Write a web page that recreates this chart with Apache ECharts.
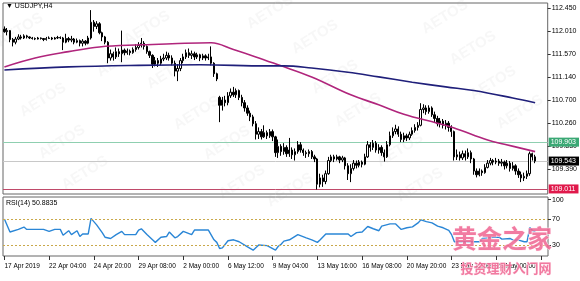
<!DOCTYPE html>
<html><head><meta charset="utf-8">
<script src="https://cdn.jsdelivr.net/npm/echarts@6/dist/echarts.min.js"></script>
<style>html,body{margin:0;padding:0;background:#fff}#c{width:580px;height:281px}</style>
</head><body><div id="c"></div>
<script>
const symbolName = "▼ USDJPY,H4";
const rsiTitle = "RSI(14) 50.8835";
const xTickLabels = ["17 Apr 2019","22 Apr 04:00","24 Apr 20:00","29 Apr 08:00","2 May 00:00","6 May 12:00","9 May 04:00","13 May 16:00","16 May 08:00","20 May 20:00","23 May 12:00","28 May 00:00"];
const barsPerTick = 16;
const priceTicks = [112.45,112.01,111.57,111.14,110.70,110.26,109.83,109.39];
const rsiTicks = [100,70,30];
const rsiLevels = [70,30];
const levelGreen = 109.903, levelBid = 109.543, levelRed = 109.011;
// [open, close, low, high]
const ohlc = [
[112.05,112.00,111.98,112.10],[112.00,112.02,111.93,112.07],[112.02,111.85,111.80,112.03],[111.85,111.80,111.72,111.88],
[111.80,111.86,111.76,111.90],[111.86,111.90,111.84,111.95],[111.90,111.88,111.85,111.94],[111.88,111.92,111.86,111.95],
[111.92,111.90,111.87,111.94],[111.90,111.88,111.86,111.91],[111.88,111.87,111.85,111.90],[111.87,111.86,111.84,111.89],
[111.86,111.88,111.85,111.90],[111.88,111.87,111.85,111.89],[111.87,111.85,111.82,111.88],[111.85,111.87,111.83,111.90],
[111.87,111.88,111.86,111.91],[111.88,111.86,111.84,111.90],[111.86,111.88,111.85,111.90],[111.88,111.89,111.86,111.92],
[111.89,111.88,111.86,111.91],[111.88,111.80,111.65,111.90],[111.80,111.87,111.78,111.96],[111.87,111.84,111.80,111.90],
[111.84,111.86,111.80,111.92],[111.86,111.80,111.76,111.88],[111.80,111.83,111.78,111.87],[111.83,111.78,111.72,111.85],
[111.78,111.82,111.72,111.86],[111.82,111.78,111.74,111.84],[111.78,111.88,111.76,111.92],[111.88,112.18,111.85,112.41],
[112.18,112.10,112.00,112.22],[112.10,112.15,112.05,112.20],[112.15,111.98,111.95,112.18],[111.98,111.90,111.82,112.00],
[111.90,111.80,111.76,111.92],[111.80,111.50,111.40,111.82],[111.50,111.58,111.45,111.66],[111.58,111.52,111.45,111.62],
[111.52,111.62,111.48,111.70],[111.62,111.58,111.52,111.68],[111.58,111.65,111.42,112.02],[111.65,111.60,111.55,111.68],
[111.60,111.63,111.56,111.68],[111.63,111.60,111.55,111.66],[111.60,111.66,111.58,111.70],[111.66,111.70,111.62,111.76],
[111.70,111.74,111.66,111.80],[111.74,111.78,111.70,111.88],[111.78,111.72,111.66,111.82],[111.72,111.62,111.58,111.74],
[111.62,111.55,111.50,111.64],[111.55,111.38,111.31,111.57],[111.38,111.45,111.34,111.52],[111.45,111.40,111.33,111.50],
[111.40,111.48,111.36,111.54],[111.48,111.50,111.44,111.58],[111.50,111.55,111.46,111.62],[111.55,111.50,111.45,111.60],
[111.50,111.40,111.36,111.55],[111.40,111.25,111.15,111.45],[111.25,111.30,111.06,111.38],[111.30,111.45,111.25,111.50],
[111.45,111.52,111.40,111.58],[111.52,111.60,111.48,111.66],[111.60,111.55,111.50,111.68],[111.55,111.58,111.48,111.64],
[111.58,111.52,111.46,111.62],[111.52,111.56,111.48,111.60],[111.56,111.50,111.44,111.58],[111.50,111.54,111.46,111.58],
[111.54,111.50,111.45,111.57],[111.50,111.52,111.46,111.58],[111.52,111.40,111.36,111.72],[111.40,111.20,111.14,111.42],
[111.20,111.10,111.06,111.22],[110.75,110.60,110.28,110.78],[110.60,110.70,110.50,110.76],[110.70,110.65,110.58,110.78],
[110.65,110.78,110.60,110.85],[110.78,110.85,110.74,110.92],[110.85,110.80,110.76,110.95],[110.80,110.88,110.74,110.92],
[110.88,110.75,110.70,110.90],[110.75,110.65,110.58,110.80],[110.65,110.55,110.48,110.70],[110.55,110.45,110.40,110.60],
[110.45,110.38,110.30,110.50],[110.38,110.25,110.20,110.42],[110.25,110.05,109.95,110.30],[110.05,110.10,109.96,110.18],
[110.10,110.00,109.95,110.15],[110.00,110.08,109.98,110.22],[110.08,110.02,109.96,110.12],[110.02,110.10,109.98,110.15],
[110.10,110.00,109.92,110.14],[110.00,109.70,109.62,110.02],[109.70,109.82,109.60,109.95],[109.82,109.72,109.64,109.86],
[109.72,109.80,109.66,109.88],[109.80,109.68,109.62,109.84],[109.68,109.75,109.62,109.98],[109.75,109.66,109.58,109.80],
[109.66,109.72,109.55,109.78],[109.72,109.85,109.68,109.92],[109.85,109.75,109.70,109.90],[109.75,109.70,109.64,109.78],
[109.70,109.68,109.60,109.74],[109.68,109.72,109.62,109.76],[109.72,109.62,109.58,109.75],[109.62,109.58,109.52,109.66],
[109.58,109.10,109.00,109.60],[109.10,109.22,109.04,109.30],[109.22,109.15,109.05,109.28],[109.15,109.30,109.10,109.36],
[109.30,109.55,109.28,109.62],[109.55,109.62,109.52,109.66],[109.62,109.58,109.52,109.66],[109.58,109.62,109.55,109.66],
[109.62,109.56,109.50,109.64],[109.56,109.60,109.52,109.64],[109.60,109.45,109.38,109.62],[109.45,109.30,109.18,109.50],
[109.30,109.40,109.14,109.48],[109.40,109.50,109.36,109.56],[109.50,109.46,109.40,109.55],[109.46,109.52,109.42,109.56],
[109.52,109.48,109.42,109.55],[109.48,109.62,109.46,109.68],[109.62,109.85,109.60,109.92],[109.85,109.80,109.72,109.90],
[109.80,109.88,109.75,109.94],[109.88,109.75,109.70,109.92],[109.75,109.80,109.68,109.86],[109.80,109.70,109.64,109.84],
[109.70,109.62,109.53,109.76],[109.62,109.85,109.60,109.92],[109.85,110.02,109.82,110.10],[110.02,110.10,109.98,110.18],
[110.10,110.15,110.05,110.23],[110.15,110.05,110.00,110.20],[110.05,109.95,109.90,110.10],[109.95,110.02,109.90,110.08],
[110.02,109.98,109.92,110.06],[109.98,110.05,109.94,110.10],[110.05,110.12,110.02,110.18],[110.12,110.18,110.08,110.24],
[110.18,110.22,110.12,110.28],[110.22,110.52,110.20,110.64],[110.52,110.55,110.45,110.62],[110.55,110.48,110.42,110.60],
[110.48,110.55,110.44,110.60],[110.55,110.42,110.38,110.58],[110.42,110.35,110.28,110.48],[110.35,110.25,110.20,110.40],
[110.25,110.30,110.18,110.36],[110.30,110.22,110.16,110.34],[110.22,110.26,110.14,110.32],[110.26,110.18,110.10,110.30],
[110.18,110.10,110.00,110.22],[110.10,109.62,109.55,110.12],[109.62,109.66,109.56,109.76],[109.66,109.60,109.55,109.72],
[109.60,109.68,109.56,109.74],[109.68,109.62,109.55,109.74],[109.62,109.70,109.58,109.78],[109.70,109.58,109.50,109.74],
[109.58,109.35,109.28,109.60],[109.35,109.28,109.23,109.40],[109.28,109.35,109.25,109.40],[109.35,109.32,109.26,109.38],
[109.32,109.42,109.30,109.48],[109.42,109.50,109.40,109.56],[109.50,109.55,109.46,109.60],[109.55,109.52,109.46,109.58],
[109.52,109.54,109.48,109.60],[109.54,109.50,109.45,109.58],[109.50,109.52,109.44,109.58],[109.52,109.45,109.38,109.55],
[109.45,109.50,109.40,109.56],[109.50,109.40,109.34,109.54],[109.40,109.45,109.36,109.52],[109.45,109.35,109.28,109.48],
[109.35,109.28,109.22,109.40],[109.28,109.22,109.14,109.34],[109.22,109.25,109.16,109.32],[109.25,109.30,109.20,109.36],
[109.30,109.68,109.26,109.72],[109.68,109.62,109.55,109.70],[109.62,109.54,109.50,109.66]
];
const emptyBarsRight = 4;
const maMagenta = [[0,111.33],[11,111.50],[23,111.62],[34,111.71],[49,111.75],[60,111.77],[74,111.79],[82,111.66],[90,111.52],[98,111.37],[110,111.14],[124,110.80],[134,110.61],[143,110.43],[155,110.26],[161,110.17],[173,109.94],[179,109.86],[190,109.72]];
const maNavy = [[0,111.27],[23,111.33],[48,111.36],[70,111.37],[94,111.35],[100,111.35],[110,111.31],[123,111.23],[134,111.14],[146,111.04],[158,110.95],[168,110.88],[182,110.74],[190,110.65]];
const rsi = [[0,70],[2,50],[5,54],[7,57.6],[8,54],[14,54],[16,51],[18,54],[20,54],[21,45],[23,52],[24,46],[26,52],[27,43],[28,47],[30,47],[31,71],[33,61],[35,49],[36,42],[38,40],[40,46],[42,51],[43,46],[47,46],[48,53],[49,55],[51,46],[53,38],[54,34],[56,42],[58,43],[59,50],[61,41],[62,43],[64,51],[67,46],[68,53],[73,53],[75,38],[76,34],[77,24.5],[78,25.5],[80,36.5],[82,38],[84,35],[87,27],[89,22],[91,30],[94,29],[97,22],[98,28],[99,31],[100,36],[102,38],[105,46],[108,41],[110,38],[112,34],[113,38],[115,47],[119,47],[123,47],[124,43],[126,49],[128,50],[130,58.5],[132,55],[134,52],[135,59],[138,62.5],[140,62.5],[142,54],[144,56.5],[146,58],[148,64],[149,68.7],[151,66],[153,64],[155,59],[157,56.5],[159,52.5],[160,46],[161,35],[164,35],[170,35],[171,40],[173,41],[175,42],[177,42],[178,39],[181,40],[182,37.5],[184,37.5],[186,35],[187,35],[188,57],[189,52],[190,50.88]];
const watermarkBig = "黄金之家";
const watermarkSmall = "投资理财入门网";
const watermarkBrand = "AETOS";

const cats = Array.from({length: ohlc.length + emptyBarsRight}, (_, i) => String(i));
const FONT = "'Liberation Sans',Arial,sans-serif";
const chart = echarts.init(document.getElementById('c'), null, {renderer: 'canvas'});

const brandSpots = [[43,100],[147,28],[170,72],[197,113],[62,142],[227,143],[85,173],[242,182],[315,37],[335,77],[445,17],[473,48],[493,83],[358,110],[520,112],[400,150],[420,185],[290,190],[20,30],[270,12],[120,60]];
const graphics = brandSpots.map(p => ({
  type: 'text', x: p[0], y: p[1], rotation: 0.55, silent: true, z: 0,
  style: {text: watermarkBrand, font: "bold 15px 'Liberation Sans',Arial,sans-serif", fill: 'rgba(150,150,150,0.08)', align: 'center', verticalAlign: 'middle'}
}));
graphics.push(
  {type: 'text', left: 6, top: 3, z: 10, style: {text: symbolName, font: "7px " + FONT, fill: '#000'}},
  {type: 'text', left: 6, top: 200, z: 10, style: {text: rsiTitle, font: "7px " + FONT, fill: '#000'}},
  {type: 'text', x: 502, y: 238, z: 20, silent: true, style: {text: watermarkBig, font: "bold 25px 'Noto Sans CJK SC'", fill: 'rgba(238,100,145,0.85)', stroke: 'rgba(255,235,242,0.9)', lineWidth: 1, align: 'center', verticalAlign: 'middle'}},
  {type: 'text', x: 506, y: 268, z: 20, silent: true, style: {text: watermarkSmall, font: "bold 13px 'Noto Sans CJK SC'", fill: 'rgba(238,100,145,0.85)', stroke: 'rgba(255,235,242,0.9)', lineWidth: 1, align: 'center', verticalAlign: 'middle'}}
);

function lvl(v, line, bg) {
  return {yAxis: v, lineStyle: {color: line, type: 'solid', width: 1},
    label: {show: true, position: 'end', distance: 1, formatter: v.toFixed(3), color: '#fff', backgroundColor: bg,
      fontSize: 7, fontFamily: FONT, padding: [1, 3, 1, 2]}};
}

chart.setOption({
  animation: false,
  backgroundColor: '#fff',
  graphic: graphics,
  grid: [
    {left: 3, right: 32, top: 3, height: 191, show: true, borderColor: '#666', borderWidth: 1, backgroundColor: 'transparent'},
    {left: 3, right: 32, top: 197, height: 59, show: true, borderColor: '#666', borderWidth: 1, backgroundColor: 'transparent'}
  ],
  xAxis: [
    {type: 'category', gridIndex: 0, data: cats, boundaryGap: true, axisLine: {show: false}, axisTick: {show: false}, axisLabel: {show: false}, splitLine: {show: false}},
    {type: 'category', gridIndex: 1, data: cats, boundaryGap: true, axisLine: {show: false},
      axisTick: {show: true, alignWithLabel: true, interval: (i) => i % barsPerTick === 0, length: 4, lineStyle: {color: '#333'}},
      axisLabel: {show: true, interval: (i) => i % barsPerTick === 0, align: 'left', margin: 7, fontSize: 6.5, fontFamily: FONT, color: '#000',
        formatter: (v, i) => (i % barsPerTick === 0 && xTickLabels[i / barsPerTick]) ? xTickLabels[i / barsPerTick] : ''},
      splitLine: {show: false}}
  ],
  yAxis: [
    {type: 'value', gridIndex: 0, position: 'right', min: 108.914, max: 112.545, splitLine: {show: false}, axisLine: {show: false},
      axisTick: {show: true, customValues: priceTicks, length: 3, lineStyle: {color: '#333'}},
      axisLabel: {customValues: priceTicks, formatter: v => v.toFixed(3), fontSize: 7, fontFamily: FONT, color: '#000', margin: 4}},
    {type: 'value', gridIndex: 1, position: 'right', min: 13, max: 104, splitLine: {show: false}, axisLine: {show: false},
      axisTick: {show: true, customValues: rsiTicks, length: 3, lineStyle: {color: '#333'}},
      axisLabel: {customValues: rsiTicks, formatter: v => String(v), fontSize: 7, fontFamily: FONT, color: '#000', margin: 4}}
  ],
  series: [
    {type: 'candlestick', xAxisIndex: 0, yAxisIndex: 0, data: ohlc, barWidth: '65%', z: 3,
      itemStyle: {color: '#ffffff', color0: '#000000', borderColor: '#000000', borderColor0: '#000000', borderWidth: 1},
      markLine: {symbol: ['none', 'none'], silent: true, animation: false, z: 2,
        data: [lvl(levelGreen, '#8fcfb0', '#3aa874'), lvl(levelBid, '#c8c8c8', '#000000'), lvl(levelRed, '#c04a6a', '#e0194b')]}},
    {type: 'line', xAxisIndex: 0, yAxisIndex: 0, data: maMagenta, symbol: 'none', smooth: 0.4, z: 4,
      lineStyle: {color: '#b0257c', width: 1.6}},
    {type: 'line', xAxisIndex: 0, yAxisIndex: 0, data: maNavy, symbol: 'none', smooth: 0.4, z: 4,
      lineStyle: {color: '#1f1f7a', width: 1.6}},
    {type: 'line', xAxisIndex: 1, yAxisIndex: 1, data: rsi, symbol: 'none', z: 4,
      lineStyle: {color: '#2a86d6', width: 1.4},
      markLine: {symbol: ['none', 'none'], silent: true, label: {show: false},
        lineStyle: {color: '#c9a84a', type: [2, 2], width: 1},
        data: rsiLevels.map(v => ({yAxis: v}))}}
  ]
});
</script></body></html>
